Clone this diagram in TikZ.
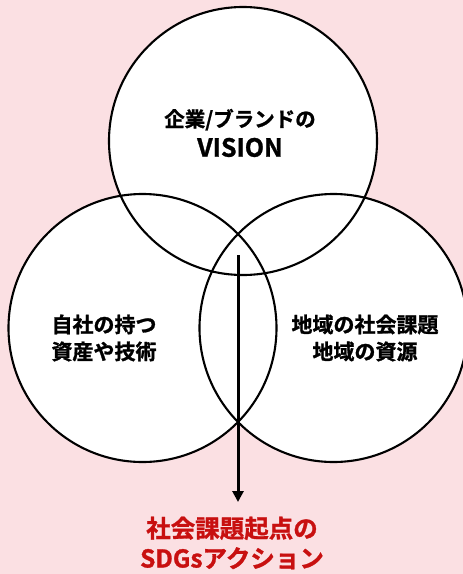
\documentclass[tikz,border=0pt]{standalone}
\usepackage{fontspec}
\setmainfont{Noto Sans CJK JP}[BoldFont={Noto Sans CJK JP Bold}, BoldFeatures={FakeBold=1.2}]
\usetikzlibrary{arrows.meta}
\definecolor{bgpink}{RGB}{251,224,227}
\definecolor{actred}{RGB}{200,16,16}
\tikzset{
  ring/.style={circle, draw=black, line width=2.1pt, minimum size=268pt, inner sep=0pt},
  ringfill/.style={circle, fill=white, minimum size=268pt, inner sep=0pt},
  lbl/.style={align=center, font=\bfseries\fontsize{21}{27}\selectfont, text=black, inner sep=0pt},
  flow/.style={line width=3pt, -{Triangle[length=11pt,width=11pt]}}
}
\begin{document}
\begin{tikzpicture}[x=1pt,y=-1pt]
\fill[bgpink] (0,0) rectangle (463,574);
\useasboundingbox (0,0) rectangle (463,574);
\clip (0,0) rectangle (463,574);
% fills first
\node[ringfill] at (243,141) {};
\node[ringfill] at (142.5,328) {};
\node[ringfill] at (333.5,328) {};
% outlines
\node[ring] (vision) at (243,141) {};
\node[ring] (own) at (142.5,328) {};
\node[ring] (local) at (333.5,328) {};
% texts
\node[lbl, font=\bfseries\fontsize{20.5}{30}\selectfont] (visiontxt) at (240,133) {企業/ブランドの\\{\fontsize{25}{30}\selectfont VISION}};
\node[lbl] (owntxt) at (104,338) {自社の持つ\\資産や技術};
\node[lbl] (localtxt) at (365,338) {地域の社会課題\\地域の資源};
% arrow
\coordinate (astart) at (238,255);
\coordinate (aend) at (238,502);
\draw[flow] (astart) -- (aend);
\node[lbl, text=actred, font=\bfseries\fontsize{24.5}{30}\selectfont] (action) at (232,543) {社会課題起点の\\SDGsアクション};
\end{tikzpicture}
\end{document}
